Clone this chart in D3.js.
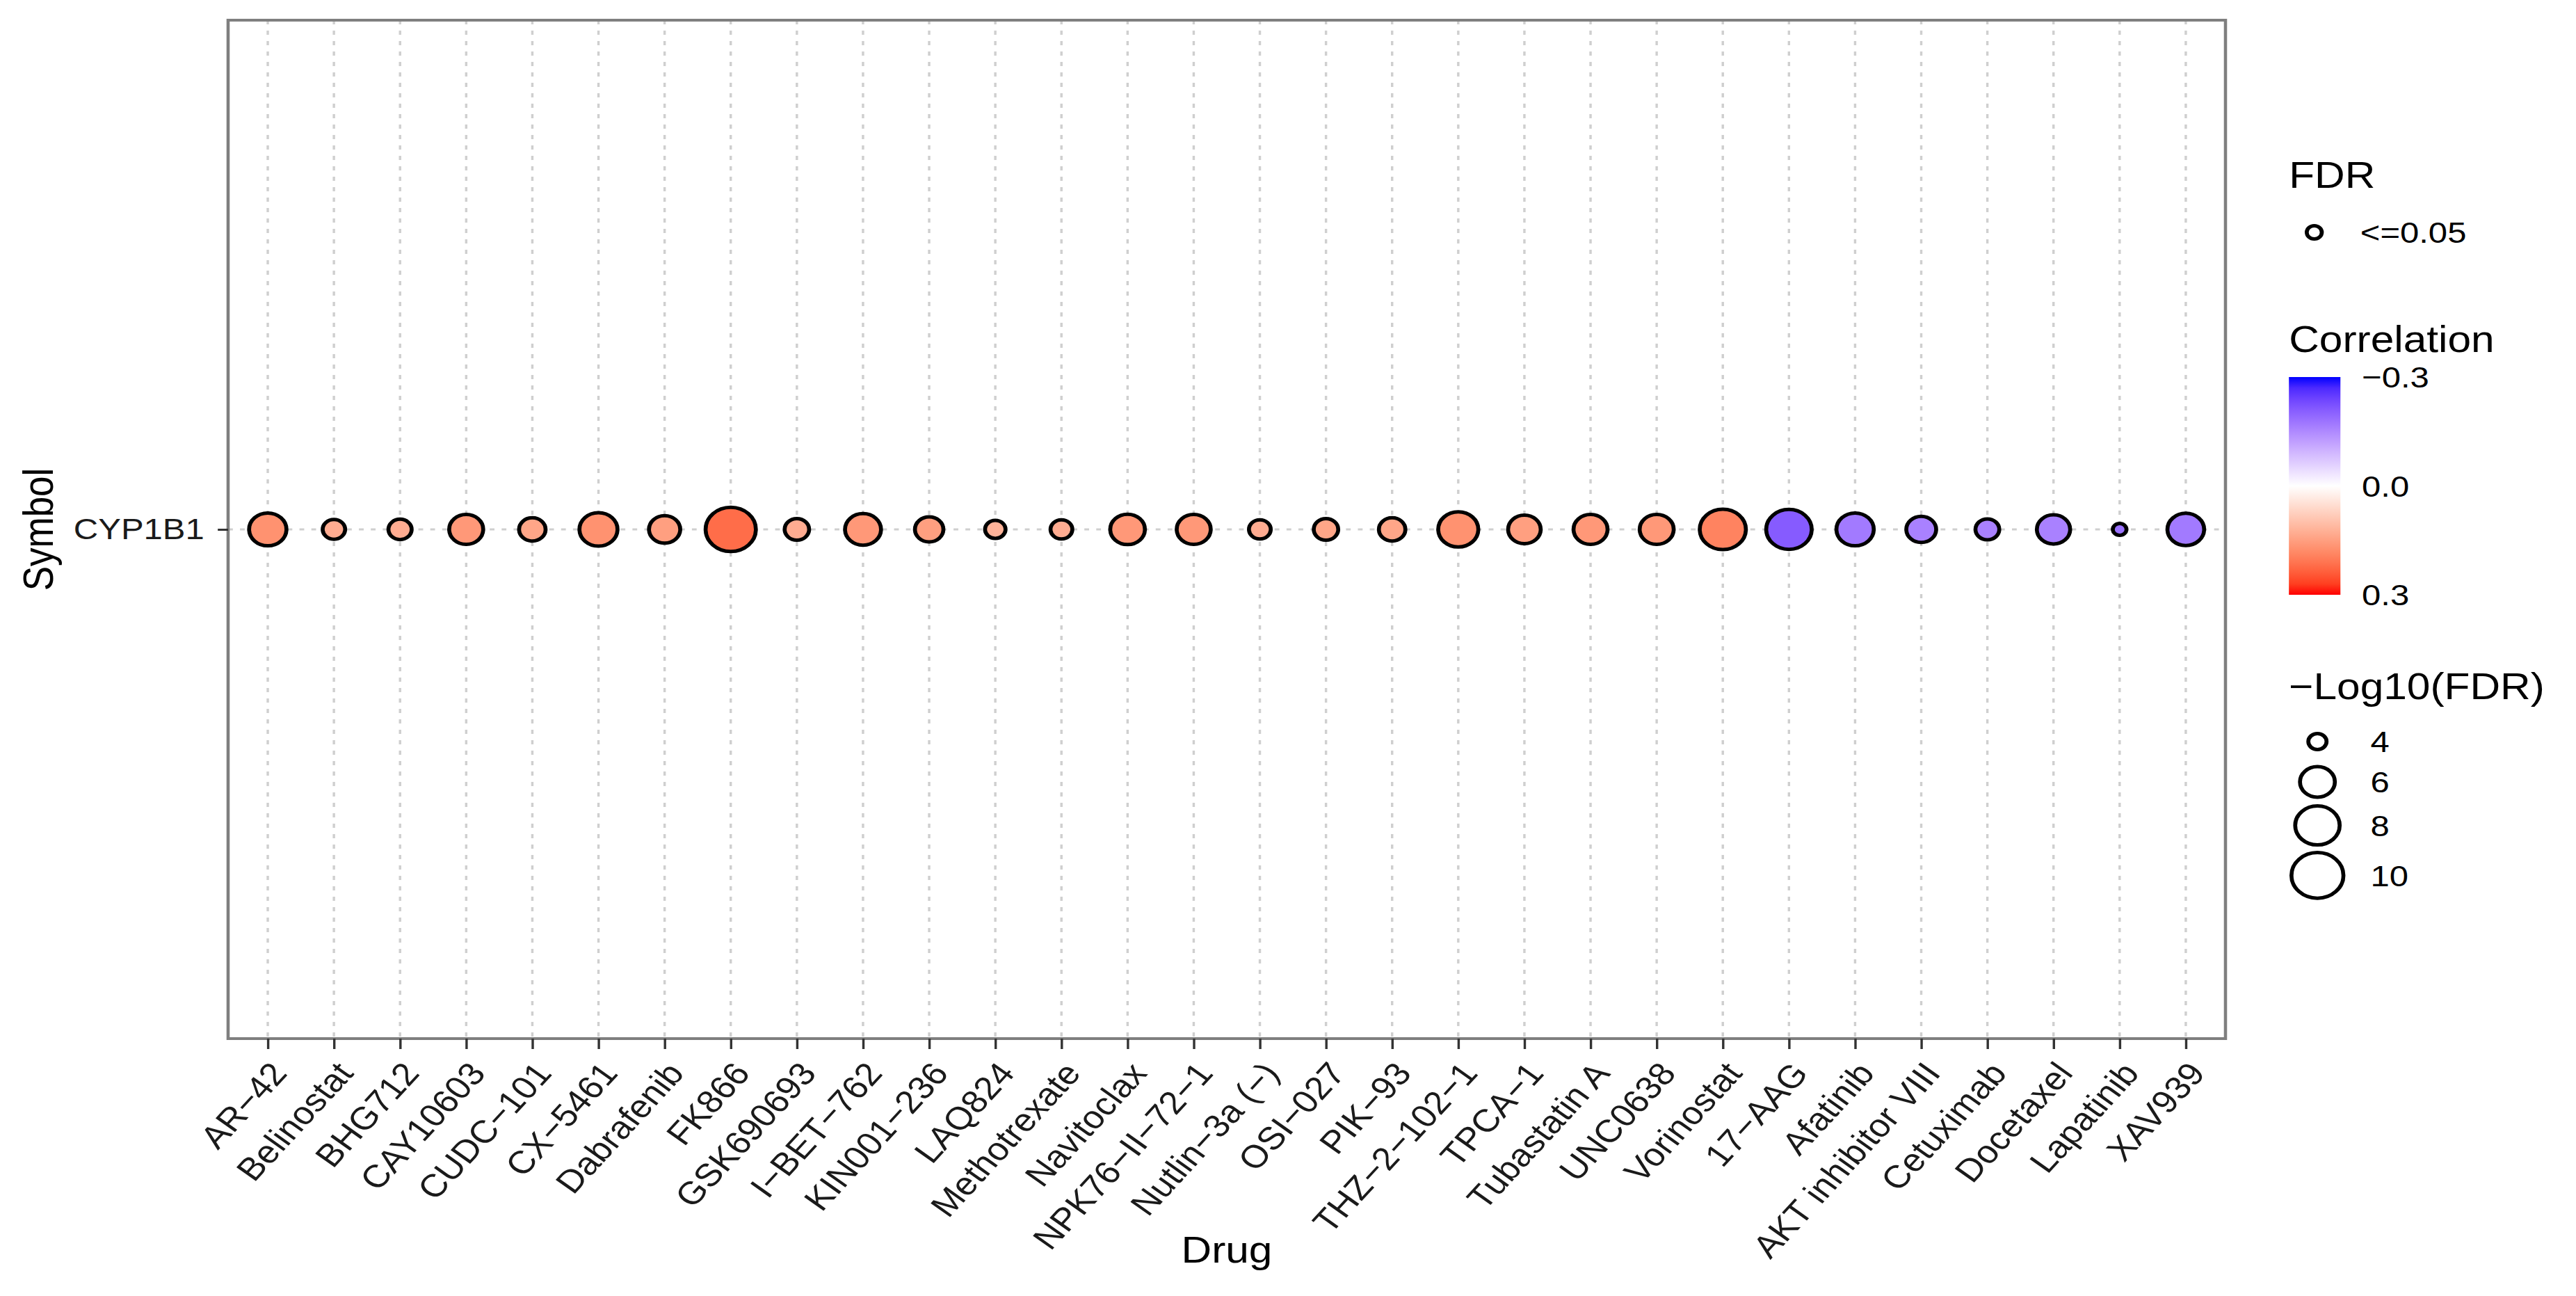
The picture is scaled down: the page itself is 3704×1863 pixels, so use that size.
<!DOCTYPE html>
<html>
<head>
<meta charset="utf-8">
<script src="https://cdn.jsdelivr.net/npm/d3@7"></script>
<style>
  html, body { margin: 0; padding: 0; background: #fff; }
  svg { display: block; }
  text { font-family: "Liberation Sans", Arial, Helvetica, sans-serif; }
</style>
</head>
<body>
<svg id="plot"></svg>
<script>
// data
const drugs = [
  'AR\u221242', 'Belinostat', 'BHG712', 'CAY10603', 'CUDC\u2212101', 'CX\u22125461',
  'Dabrafenib', 'FK866', 'GSK690693', 'I\u2212BET\u2212762', 'KIN001\u2212236', 'LAQ824',
  'Methotrexate', 'Navitoclax', 'NPK76\u2212II\u221272\u22121', 'Nutlin\u22123a (\u2212)', 'OSI\u2212027', 'PIK\u221293',
  'THZ\u22122\u2212102\u22121', 'TPCA\u22121', 'Tubastatin A', 'UNC0638', 'Vorinostat', '17\u2212AAG',
  'Afatinib', 'AKT inhibitor VIII', 'Cetuximab', 'Docetaxel', 'Lapatinib', 'XAV939'
];
const negLog10FDR = [
  6.45, 4.33, 4.40, 5.85, 4.76, 6.59,
  5.40, 9.50, 4.53, 6.20, 5.00, 4.16,
  4.27, 5.96, 5.85, 4.27, 4.53, 4.76,
  7.01, 5.62, 5.85, 5.85, 8.41, 8.25,
  6.45, 5.20, 4.46, 5.73, 3.78, 6.33
];
const correlation = [
  0.17, 0.13, 0.13, 0.16, 0.14, 0.17,
  0.15, 0.22, 0.13, 0.16, 0.15, 0.12,
  0.13, 0.16, 0.16, 0.13, 0.14, 0.14,
  0.17, 0.15, 0.16, 0.16, 0.19, -0.21,
  -0.17, -0.16, -0.16, -0.16, -0.18, -0.17
];
const symbols = ['CYP1B1'];
const sizeBreaks = [4, 6, 8, 10];
const corrBreaks = [-0.3, 0, 0.3];
const corrLabels = ['\u22120.3', '0.0', '0.3'];

const rows = drugs.map((d, i) => ({ drug: d, symbol: 'CYP1B1', size: negLog10FDR[i], cor: correlation[i] }));

// the reference picture is stretched horizontally, so draw in a narrower box and stretch it
const stretch = 1.14;
const W = 3704, H = 1863;
const VW = W / stretch;

const panel = { left: 287.7, right: 2807, top: 29, bottom: 1493 };
const strokeW = 5;
const axisFont = 43, xLabFont = 46, titleFont = 53;

const svg = d3.select('#plot')
  .attr('width', W)
  .attr('height', H)
  .attr('viewBox', `0 0 ${VW} ${H}`)
  .attr('preserveAspectRatio', 'none');

const x = d3.scalePoint().domain(drugs).range([panel.left, panel.right]).padding(0.6);
const y = d3.scalePoint().domain(symbols).range([panel.top, panel.bottom]).padding(0.5);

// size scale: area style, outer diameter
const sizeFloor = 3.7;
const size = d3.scaleSqrt().domain([0, 6.5]).range([16.1, 16.1 + 21.7 * Math.sqrt(6.5)]);
const diam = v => size(Math.max(0, v - sizeFloor));

const color = d3.scaleLinear()
  .domain(corrBreaks)
  .range(['blue', 'white', 'red'])
  .interpolate(d3.interpolateLab);

// grid
const grid = svg.append('g');
grid.selectAll('.vgrid')
  .data(drugs)
  .enter().append('line')
  .attr('x1', d => x(d)).attr('x2', d => x(d))
  .attr('y1', panel.top).attr('y2', panel.bottom)
  .attr('stroke', '#cfcfcf').attr('stroke-width', 3)
  .attr('stroke-dasharray', '6,9');
grid.selectAll('.hgrid')
  .data(symbols)
  .enter().append('line')
  .attr('x1', panel.left).attr('x2', panel.right)
  .attr('y1', d => y(d)).attr('y2', d => y(d))
  .attr('stroke', '#cfcfcf').attr('stroke-width', 3)
  .attr('stroke-dasharray', '6,9');

// points
svg.selectAll('.dot')
  .data(rows)
  .enter().append('circle')
  .attr('cx', d => x(d.drug))
  .attr('cy', d => y(d.symbol))
  .attr('r', d => diam(d.size) / 2 - strokeW / 2)
  .attr('fill', d => color(d.cor))
  .attr('stroke', '#000')
  .attr('stroke-width', strokeW);

// panel border
svg.append('rect')
  .attr('x', panel.left).attr('y', panel.top)
  .attr('width', panel.right - panel.left).attr('height', panel.bottom - panel.top)
  .attr('fill', 'none').attr('stroke', '#7f7f7f').attr('stroke-width', 4);

// x axis
const xAxis = d3.axisBottom(x).tickSize(15).tickPadding(0);
const gx = svg.append('g')
  .attr('transform', `translate(0, ${panel.bottom})`)
  .call(xAxis);
gx.select('.domain').remove();
gx.selectAll('.tick line').attr('stroke', '#333').attr('stroke-width', 3);
gx.selectAll('.tick text')
  .attr('fill', '#1a1a1a')
  .attr('font-size', xLabFont)
  .attr('text-anchor', 'end')
  .attr('y', 0)
  .attr('dy', '0.72em')
  .attr('transform', 'translate(0, 30) rotate(-51)');

// y axis
const yAxis = d3.axisLeft(y).tickSize(13).tickPadding(17);
const gy = svg.append('g')
  .attr('transform', `translate(${panel.left}, 0)`)
  .call(yAxis);
gy.select('.domain').remove();
gy.selectAll('.tick line').attr('stroke', '#333').attr('stroke-width', 3);
gy.selectAll('.tick text')
  .attr('fill', '#1a1a1a')
  .attr('font-size', axisFont);

// axis titles
svg.append('text')
  .attr('x', (panel.left + panel.right) / 2)
  .attr('y', 1815)
  .attr('text-anchor', 'middle')
  .attr('font-size', titleFont)
  .text('Drug');
svg.append('text')
  .attr('transform', `translate(67, ${(panel.top + panel.bottom) / 2}) rotate(-90)`)
  .attr('text-anchor', 'middle')
  .attr('font-size', titleFont)
  .text('Symbol');

// legends
const lgX = 2887;
const legend = svg.append('g');

// FDR
legend.append('text').attr('x', lgX).attr('y', 270).attr('font-size', titleFont).text('FDR');
legend.append('circle')
  .attr('cx', 2919).attr('cy', 334).attr('r', 12 - strokeW / 2)
  .attr('fill', 'none').attr('stroke', '#000').attr('stroke-width', strokeW);
legend.append('text')
  .attr('x', 2977).attr('y', 334).attr('dy', '0.36em')
  .attr('font-size', axisFont).text('<=0.05');

// Correlation colour bar
legend.append('text').attr('x', lgX).attr('y', 506).attr('font-size', titleFont).text('Correlation');
const barTop = 542, barBottom = 855, barW = 65;
const barY = d3.scaleLinear().domain(d3.extent(corrBreaks)).range([barTop, barBottom]);
const grad = svg.append('defs').append('linearGradient')
  .attr('id', 'corGrad').attr('x1', 0).attr('x2', 0).attr('y1', 0).attr('y2', 1);
grad.selectAll('stop')
  .data(d3.range(0, 1.0001, 0.05))
  .enter().append('stop')
  .attr('offset', d => d)
  .attr('stop-color', d => color(barY.invert(barTop + d * (barBottom - barTop))));
legend.append('rect')
  .attr('x', lgX).attr('y', barTop)
  .attr('width', barW).attr('height', barBottom - barTop)
  .attr('fill', 'url(#corGrad)');
legend.selectAll('.corlab')
  .data(corrBreaks)
  .enter().append('text')
  .attr('x', 2979)
  .attr('y', d => barY(d))
  .attr('dy', '0.36em')
  .attr('font-size', axisFont)
  .text((d, i) => corrLabels[i]);

// -Log10(FDR) size keys
legend.append('text').attr('x', lgX).attr('y', 1005).attr('font-size', titleFont).text('\u2212Log10(FDR)');
let keyY = 1066 - 29;
const keys = sizeBreaks.map(v => {
  const h = Math.max(diam(v) + 6, 58);
  const cy = keyY + h / 2;
  keyY += h;
  return { v, cy };
});
legend.selectAll('.sizekey')
  .data(keys)
  .enter().append('circle')
  .attr('cx', 2923)
  .attr('cy', d => d.cy)
  .attr('r', d => diam(d.v) / 2 - strokeW / 2)
  .attr('fill', 'none').attr('stroke', '#000').attr('stroke-width', strokeW);
legend.selectAll('.sizelab')
  .data(keys)
  .enter().append('text')
  .attr('x', 2990)
  .attr('y', d => d.cy)
  .attr('dy', '0.36em')
  .attr('font-size', axisFont)
  .text(d => d.v);
</script>
</body>
</html>
